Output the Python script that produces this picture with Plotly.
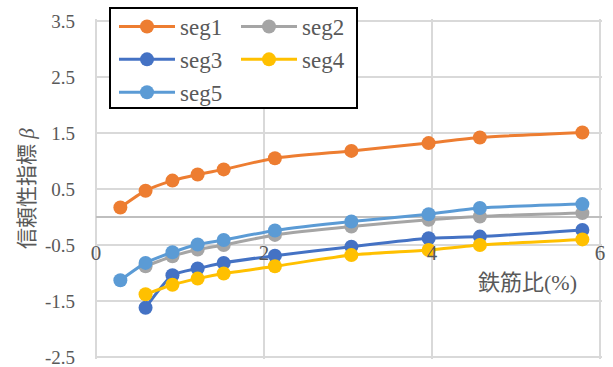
import plotly.graph_objects as go

# Reinforcement ratio (%) at each analysis point
rebar_ratio = [0.29, 0.59, 0.91, 1.21, 1.52, 2.13, 3.04, 3.96, 4.57, 5.79]

# Reliability index beta for each segment
seg1 = [0.17, 0.47, 0.65, 0.76, 0.85, 1.05, 1.18, 1.32, 1.42, 1.51]
seg2 = [None, -0.88, -0.70, -0.58, -0.50, -0.32, -0.17, -0.05, 0.01, 0.07]
seg3 = [None, -1.62, -1.04, -0.92, -0.82, -0.69, -0.53, -0.38, -0.35, -0.23]
seg4 = [None, -1.38, -1.21, -1.10, -1.01, -0.88, -0.68, -0.59, -0.50, -0.40]
seg5 = [-1.13, -0.82, -0.63, -0.49, -0.41, -0.24, -0.08, 0.05, 0.16, 0.23]

series = [
    ("seg1", seg1, "#ED7D31", "legend"),
    ("seg2", seg2, "#A5A5A5", "legend2"),
    ("seg3", seg3, "#4472C4", "legend"),
    ("seg4", seg4, "#FFC000", "legend2"),
    ("seg5", seg5, "#5B9BD5", "legend"),
]

y_ticks = [-2.5, -1.5, -0.5, 0.5, 1.5, 2.5, 3.5]
y_tick_text = ["-2.5", "-1.5", "-0.5", "0.5", "1.5", "2.5", "3.5"]
x_ticks = [0, 2, 4, 6]

FONT = "Liberation Serif, Noto Sans CJK JP, serif"
TEXT = "#595959"
GRID = "#d9d9d9"

# Figure geometry (pixels); the value range maps onto LEFT..RIGHT and TOP..BOTTOM
W, H = 613, 367
LEFT, RIGHT, TOP, BOTTOM = 96, 600, 21, 357
EDGE = 2  # extra pixels so edge grid lines are not clipped

y_lo, y_hi = -2.5, 3.5
x_lo, x_hi = 0, 6
y_per_px = (y_hi - y_lo) / (BOTTOM - TOP)
x_per_px = (x_hi - x_lo) / (RIGHT - LEFT)

PLOT_TOP, PLOT_BOTTOM = TOP - EDGE, BOTTOM + EDGE
PLOT_RIGHT = RIGHT + EDGE


def px_x(px):
    return (px - LEFT) / (PLOT_RIGHT - LEFT)


def px_y(py):
    return (PLOT_BOTTOM - py) / PLOT_BOTTOM


fig = go.Figure()
for name, vals, color, leg in series:
    pts = [(x, y) for x, y in zip(rebar_ratio, vals) if y is not None]
    fig.add_trace(go.Scatter(
        x=[p[0] for p in pts], y=[p[1] for p in pts], name=name,
        mode="lines+markers", legend=leg,
        line=dict(color=color, width=3, shape="spline", smoothing=0.6),
        marker=dict(color=color, size=14),
    ))

y_range = [y_lo - EDGE * y_per_px, y_hi + EDGE * y_per_px]
x_range = [x_lo, x_hi + EDGE * x_per_px]
y_dom = [0, px_y(PLOT_TOP)]
x_axis_pos = (0 - y_range[0]) / (y_range[1] - y_range[0]) * y_dom[1]

legend_style = dict(
    yanchor="top", xanchor="left", y=px_y(5), bgcolor="rgba(0,0,0,0)",
    borderwidth=0, font=dict(family=FONT, size=23, color=TEXT), itemwidth=56,
    traceorder="normal",
)

fig.update_layout(
    width=W, height=H,
    margin=dict(l=LEFT, r=W - PLOT_RIGHT, t=0, b=H - PLOT_BOTTOM, autoexpand=False),
    paper_bgcolor="white", plot_bgcolor="white",
    font=dict(family=FONT, color=TEXT, size=20),
    xaxis=dict(
        range=x_range, tickvals=x_ticks, showgrid=True, gridcolor=GRID, gridwidth=1.5,
        zeroline=True, zerolinecolor=GRID, zerolinewidth=1.5, showline=False,
        anchor="free", position=x_axis_pos,
        ticks="", ticklabelstandoff=21, ticklabeloverflow="allow",
        tickfont=dict(family=FONT, size=21, color=TEXT),
        fixedrange=True,
    ),
    yaxis=dict(
        range=y_range, domain=y_dom, tickvals=y_ticks, ticktext=y_tick_text,
        showgrid=True, gridcolor=GRID, gridwidth=1.5,
        zeroline=True, zerolinecolor="#bfbfbf", zerolinewidth=2,
        ticks="", ticklabelstandoff=20, ticklabeloverflow="allow",
        tickfont=dict(family=FONT, size=19, color=TEXT),
        fixedrange=True,
    ),
    legend=dict(x=px_x(114), **legend_style),
    legend2=dict(x=px_x(236), **legend_style),
    showlegend=True,
)

# Frame around the two legend columns
fig.add_shape(type="rect", xref="paper", yref="paper",
              x0=px_x(110), x1=px_x(357), y0=px_y(108), y1=px_y(8),
              line=dict(color="black", width=2), fillcolor="white", layer="above")

fig.add_annotation(text="鉄筋比(%)", xref="paper", yref="paper",
                   x=px_x(527), y=px_y(282), showarrow=False,
                   xanchor="center", yanchor="middle",
                   font=dict(family=FONT, size=22, color=TEXT))
fig.add_annotation(text="信頼性指標 <i>β</i>", xref="paper", yref="paper",
                   x=px_x(27), y=px_y(189), textangle=-90, showarrow=False,
                   xanchor="center", yanchor="middle",
                   font=dict(family=FONT, size=21, color=TEXT))

fig.write_html("out.html")
